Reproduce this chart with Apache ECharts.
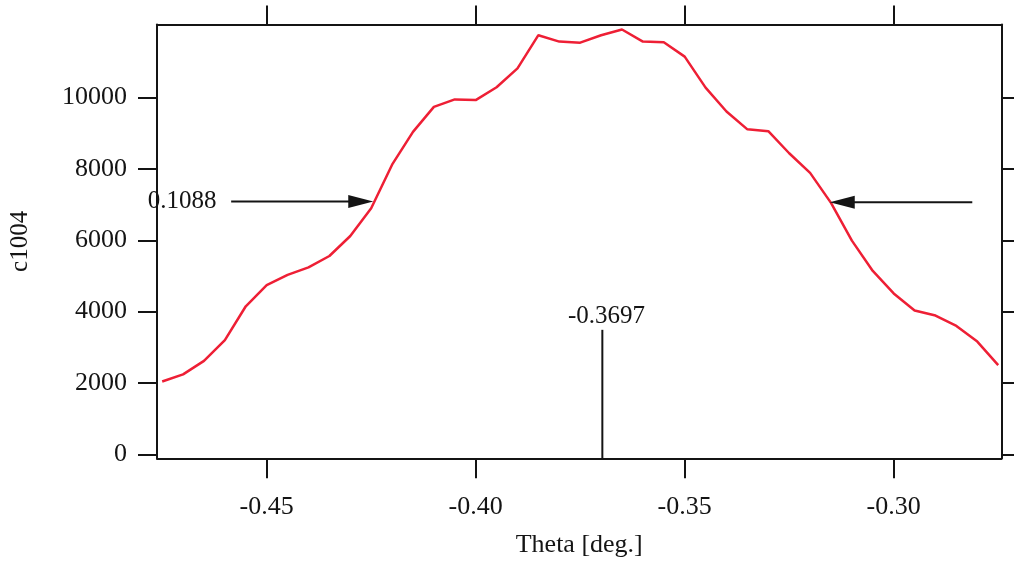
<!DOCTYPE html>
<html>
<head>
<meta charset="utf-8">
<script src="https://cdn.jsdelivr.net/npm/echarts@6/dist/echarts.min.js"></script>
<style>
  html, body { margin: 0; padding: 0; background: #ffffff; }
  #chart { width: 1014px; height: 562px; }
</style>
</head>
<body>
<div id="chart"></div>
<script>
// ---- data ----
var theta = [-0.475, -0.470, -0.465, -0.460, -0.455, -0.450, -0.445, -0.440, -0.435, -0.430,
             -0.425, -0.420, -0.415, -0.410, -0.405, -0.400, -0.395, -0.390, -0.385, -0.380,
             -0.375, -0.370, -0.365, -0.360, -0.355, -0.350, -0.345, -0.340, -0.335, -0.330,
             -0.325, -0.320, -0.315, -0.310, -0.305, -0.300, -0.295, -0.290, -0.285, -0.280,
             -0.275];
var counts = [2040, 2240, 2620, 3200, 4150, 4740, 5030, 5240, 5560, 6120,
              6900, 8120, 9040, 9740, 9950, 9930, 10290, 10820, 11750, 11570,
              11540, 11750, 11910, 11570, 11550, 11150, 10280, 9610, 9110, 9060,
              8440, 7890, 7050, 5990, 5140, 4510, 4030, 3890, 3600, 3160,
              2500];
var xTicks = [-0.45, -0.40, -0.35, -0.30];
var yTicks = [0, 2000, 4000, 6000, 8000, 10000];
// FWHM arrows: [fromTheta, fromCount, toTheta, toCount]
var fwhmArrows = [[-0.4585, 7090, -0.4245, 7090], [-0.2812, 7065, -0.3153, 7065]];
// centre marker line: [theta, countFrom, countTo]
var centreLine = [[-0.3697, -112, 3490]];
// annotation texts: [theta, count]
var noteLabels = ['0.1088', '-0.3697'];
var notePos = [[-0.4702, 7090], [-0.3687, 3860]];

var xMin = -0.47624, xMax = -0.27421;
var yMin = -112, yMax = 12050;

var FONT = 'Liberation Serif';
var INK = '#141414';

var lineData = theta.map(function (t, i) { return [t, counts[i]]; });

var chart = echarts.init(document.getElementById('chart'), null, { renderer: 'canvas' });

var baseX = {
  type: 'value', min: xMin, max: xMax,
  axisLine: { show: true, onZero: false, lineStyle: { color: INK, width: 2 } },
  splitLine: { show: false },
  axisTick: { show: true, inside: false, length: 20, customValues: xTicks, lineStyle: { color: INK, width: 2 } }
};
var baseY = {
  type: 'value', min: yMin, max: yMax,
  axisLine: { show: true, onZero: false, lineStyle: { color: INK, width: 2 } },
  splitLine: { show: false },
  axisTick: { show: true, inside: false, length: 19, customValues: yTicks, lineStyle: { color: INK, width: 2 } }
};

var option = {
  animation: false,
  backgroundColor: '#ffffff',
  grid: { left: 157, right: 12.5, top: 24.5, bottom: 103.7, containLabel: false, outerBoundsMode: 'none' },
  xAxis: [
    Object.assign({}, baseX, {
      position: 'bottom',
      name: 'Theta [deg.]', nameLocation: 'middle', nameGap: 74,
      nameTextStyle: { fontFamily: FONT, fontSize: 26, color: INK },
      axisLabel: {
        show: true, customValues: xTicks, margin: 36,
        fontFamily: FONT, fontSize: 26, color: INK,
        formatter: function (v) { return v.toFixed(2); }
      }
    }),
    Object.assign({}, baseX, {
      position: 'top',
      axisTick: { show: true, inside: false, length: 19, customValues: xTicks, lineStyle: { color: INK, width: 2 } },
      axisLabel: { show: false }
    })
  ],
  yAxis: [
    Object.assign({}, baseY, {
      position: 'left',
      name: 'c1004', nameLocation: 'middle', nameGap: 124,
      nameTextStyle: { fontFamily: FONT, fontSize: 25, color: INK },
      axisLabel: {
        show: true, customValues: yTicks, margin: 30,
        fontFamily: FONT, fontSize: 26, color: INK,
        formatter: function (v) { return String(v); }
      }
    }),
    Object.assign({}, baseY, {
      position: 'right',
      axisLabel: { show: false }
    })
  ],
  series: [
    {
      type: 'line', xAxisIndex: 0, yAxisIndex: 0,
      data: lineData, showSymbol: false, symbol: 'none', smooth: false,
      lineStyle: { color: '#ee1f35', width: 2.5 },
      z: 3
    },
    {
      type: 'custom', xAxisIndex: 0, yAxisIndex: 0,
      data: fwhmArrows, encode: { x: [0, 2], y: [1, 3] }, clip: false, z: 4,
      renderItem: function (params, api) {
        var s = api.coord([api.value(0), api.value(1)]);
        var e = api.coord([api.value(2), api.value(3)]);
        var dx = e[0] - s[0], dy = e[1] - s[1];
        var L = Math.sqrt(dx * dx + dy * dy), ux = dx / L, uy = dy / L;
        var hl = 25, hw = 6.5;
        var bx = e[0] - ux * hl, by = e[1] - uy * hl;
        return {
          type: 'group', children: [
            { type: 'line', shape: { x1: s[0], y1: s[1], x2: bx + ux * 2, y2: by + uy * 2 }, style: { stroke: INK, lineWidth: 2 } },
            { type: 'polygon', shape: { points: [[e[0], e[1]], [bx - uy * hw, by + ux * hw], [bx + uy * hw, by - ux * hw]] }, style: { fill: INK } }
          ]
        };
      }
    },
    {
      type: 'custom', xAxisIndex: 0, yAxisIndex: 0,
      data: centreLine, encode: { x: 0, y: [1, 2] }, clip: false, z: 4,
      renderItem: function (params, api) {
        var a = api.coord([api.value(0), api.value(1)]);
        var b = api.coord([api.value(0), api.value(2)]);
        return { type: 'line', shape: { x1: a[0], y1: a[1], x2: b[0], y2: b[1] }, style: { stroke: INK, lineWidth: 2 } };
      }
    },
    {
      type: 'custom', xAxisIndex: 0, yAxisIndex: 0,
      data: notePos, encode: { x: 0, y: 1 }, clip: false, z: 5,
      renderItem: function (params, api) {
        var p = api.coord([api.value(0), api.value(1)]);
        return {
          type: 'text', x: p[0], y: p[1],
          style: { text: noteLabels[params.dataIndex], fontFamily: FONT, fontSize: 25, fill: INK, align: 'center', verticalAlign: 'middle' }
        };
      }
    }
  ]
};
chart.setOption(option);
</script>
</body>
</html>
